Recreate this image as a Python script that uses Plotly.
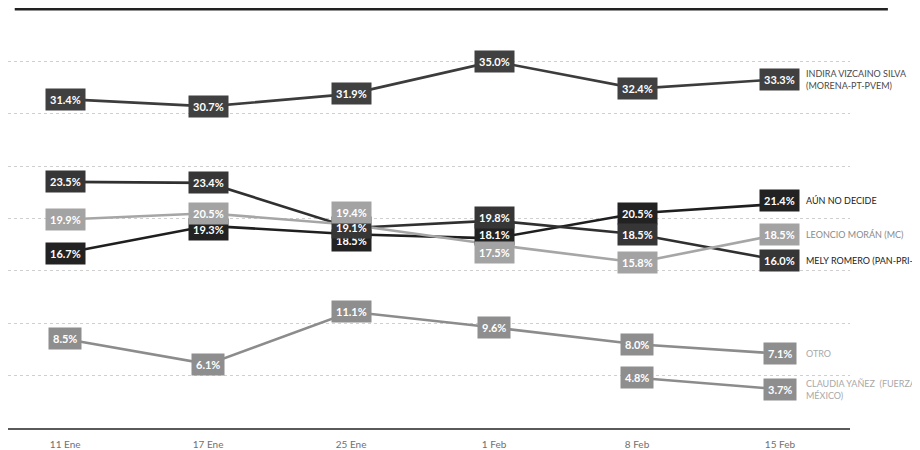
import plotly.graph_objects as go

fechas = ["11 Ene", "17 Ene", "25 Ene", "1 Feb", "8 Feb", "15 Feb"]

indira = [31.4, 30.7, 31.9, 35.0, 32.4, 33.3]
aun_no_decide = [16.7, 19.3, 18.5, 18.1, 20.5, 21.4]
mely = [23.5, 23.4, 19.1, 19.8, 18.5, 16.0]
leoncio = [19.9, 20.5, 19.4, 17.5, 15.8, 18.5]
otro = [8.5, 6.1, 11.1, 9.6, 8.0, 7.1]
claudia = [None, None, None, None, 4.8, 3.7]

nombres = [
    "INDIRA VIZCAINO SILVA<br>(MORENA-PT-PVEM)",
    "AÚN NO DECIDE",
    "MELY ROMERO (PAN-PRI-PRD)",
    "LEONCIO MORÁN (MC)",
    "OTRO",
    "CLAUDIA YAÑEZ  (FUERZA<br>MÉXICO)",
]

series = [indira, aun_no_decide, mely, leoncio, otro, claudia]
colores = ["#3c3c3c", "#1f1f1f", "#303030", "#a6a6a6", "#8c8c8c", "#8c8c8c"]
colores_caja = ["#404040", "#222222", "#363636", "#a3a3a3", "#8e8e8e", "#8e8e8e"]
colores_nombre = ["#4a4a4a", "#1a1a1a", "#222222", "#8a8a8a", "#a8a8a8", "#a8a8a8"]

# pequeños ajustes verticales (px) para que las etiquetas no se encimen
ajustes = {
    (1, 1): -4, (3, 2): 12, (1, 2): -6,
    (2, 3): 3, (1, 3): 4, (3, 3): -8, (1, 5): 3,
}

x = list(range(len(fechas)))
fig = go.Figure()

for i, vals in enumerate(series):
    fig.add_trace(go.Scatter(
        x=x, y=vals, mode="lines",
        line=dict(color=colores[i], width=2.6),
        showlegend=False, hoverinfo="skip",
    ))

anotaciones = []
for i, vals in enumerate(series):
    for j, v in enumerate(vals):
        if v is None:
            continue
        anotaciones.append(dict(
            x=j, y=v, xref="x", yref="y", showarrow=False,
            text=f"<b>{v:.1f}%</b>", bgcolor=colores_caja[i], borderpad=4,
            font=dict(family="Lato", size=11, color="white"),
            yshift=ajustes.get((i, j), 0),
        ))
    ult = [k for k, v in enumerate(vals) if v is not None][-1]
    anotaciones.append(dict(
        x=ult, y=vals[ult], xref="x", yref="y", showarrow=False,
        text=nombres[i], xanchor="left", align="left", xshift=24,
        font=dict(family="Lato", size=9, color=colores_nombre[i]),
        yshift=ajustes.get((i, ult), 0),
    ))

# la página tiene 8px de margen en el body, por eso 912x442
fig.update_layout(
    width=912, height=442,
    margin=dict(l=0, r=70, t=1, b=22),
    plot_bgcolor="white", paper_bgcolor="white",
    annotations=anotaciones,
    shapes=[dict(type="line", xref="paper", yref="paper", x0=0.008, x1=1.045,
                 y0=1, y1=1, line=dict(color="#222222", width=3))],
    xaxis=dict(
        tickmode="array", tickvals=x, ticktext=fechas,
        range=[-0.4, 5.49], showgrid=False, zeroline=False,
        showline=True, linecolor="#5a5a5a", linewidth=2, ticks="",
        ticklabelstandoff=6,
        tickfont=dict(family="Lato", size=10, color="#707070"),
    ),
    yaxis=dict(
        range=[0, 40], dtick=5, showticklabels=False, zeroline=False,
        showgrid=True, gridcolor="#cfcfcf", griddash="3px,3px", gridwidth=1,
    ),
)

fig.write_html("out.html")
